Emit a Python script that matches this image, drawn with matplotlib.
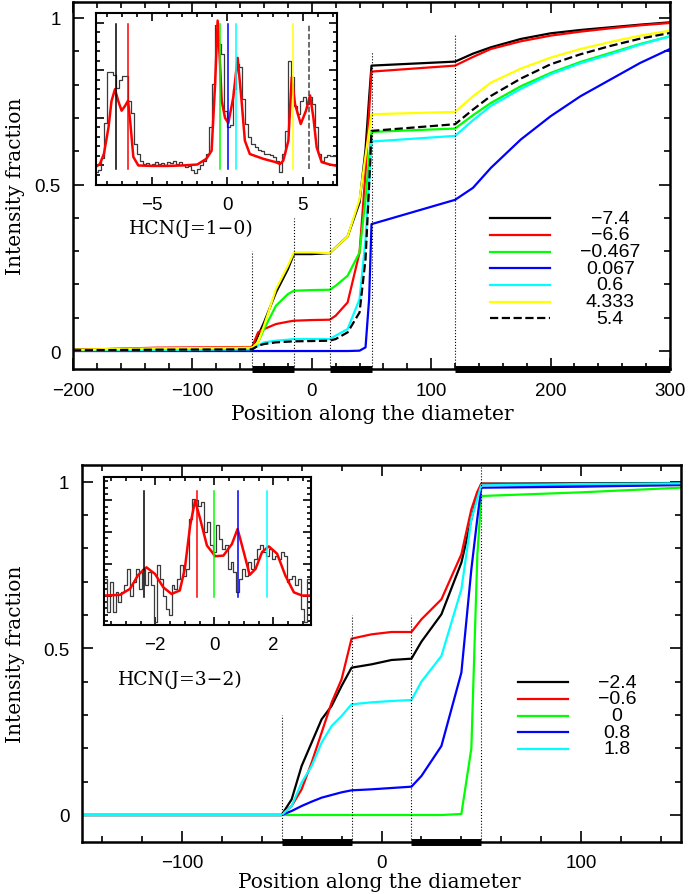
import matplotlib
matplotlib.use('Agg')
import matplotlib.pyplot as plt
from matplotlib.ticker import MultipleLocator

plt.rcParams['font.family'] = ['Liberation Sans', 'DejaVu Sans']
SERIF = 'DejaVu Serif'

# ---------------- top panel : HCN(J=1-0) ----------------
pos10 = [-200, -130, -50, -45, -40, -30, -20, -15, 0, 15, 20, 30, 40, 45, 48, 50,
         120, 135, 150, 175, 200, 225, 250, 275, 300]
vel10 = [-7.4, -6.6, -0.467, 0.067, 0.6, 4.333, 5.4]
lab10 = ['\u22127.4', '\u22126.6', '\u22120.467', '0.067', '0.6', '4.333', '5.4']
col10 = ['black', 'red', '#00ff00', 'blue', 'cyan', 'yellow', 'black']
ls10 = ['-', '-', '-', '-', '-', '-', '--']
frac10 = [
    [0.005, 0.007, 0.008, 0.046, 0.086, 0.176, 0.246, 0.291, 0.291, 0.294, 0.311, 0.344,
     0.446, 0.606, 0.76, 0.857, 0.869, 0.893, 0.912, 0.937, 0.954, 0.964, 0.972, 0.980, 0.987],
    [0.003, 0.010, 0.012, 0.056, 0.066, 0.081, 0.088, 0.091, 0.093, 0.094, 0.106, 0.146,
     0.296, 0.536, 0.72, 0.839, 0.857, 0.883, 0.907, 0.930, 0.947, 0.959, 0.969, 0.978, 0.985],
    [0.002, 0.004, 0.006, 0.026, 0.066, 0.136, 0.171, 0.181, 0.183, 0.184, 0.196, 0.226,
     0.296, 0.457, 0.58, 0.658, 0.668, 0.708, 0.745, 0.795, 0.835, 0.868, 0.895, 0.922, 0.945],
    [0, 0, 0, 0, 0, 0, 0, 0, 0, 0, 0, 0,
     0.001, 0.011, 0.156, 0.381, 0.454, 0.49, 0.55, 0.635, 0.705, 0.765, 0.815, 0.865, 0.907],
    [0.002, 0.003, 0.005, 0.016, 0.026, 0.031, 0.034, 0.036, 0.036, 0.036, 0.046, 0.066,
     0.156, 0.336, 0.506, 0.629, 0.646, 0.693, 0.736, 0.787, 0.831, 0.864, 0.891, 0.92, 0.945],
    [0.004, 0.008, 0.010, 0.026, 0.076, 0.186, 0.256, 0.296, 0.296, 0.294, 0.311, 0.344,
     0.456, 0.586, 0.66, 0.711, 0.718, 0.765, 0.806, 0.848, 0.881, 0.907, 0.928, 0.947, 0.962],
    [0.002, 0.004, 0.005, 0.016, 0.021, 0.026, 0.028, 0.029, 0.030, 0.031, 0.036, 0.056,
     0.116, 0.276, 0.496, 0.661, 0.681, 0.725, 0.766, 0.818, 0.861, 0.891, 0.916, 0.938, 0.955],
]
edges10 = [-50, -15, 15, 50, 120]
edgetop10 = [0.30, 0.40, 0.40, 0.90, 0.95]
bars10 = [(-50, -15), (15, 50), (120, 300)]

# spectrum in inset (observed histogram + model)
spec10_v = [-8.7 + 0.2 * i for i in range(81)]
spec10_t = [-0.14, -0.10, 0.15, 0.90, 1.96, 1.96, 1.90, 1.62, 1.80, 1.88, 1.88, 1.36, 1.10,
            0.45, 0.24, 0.10, 0.03, 0.05, 0.00, 0.04, 0.08, 0.04, 0.06, 0.02, 0.07, 0.05,
            0.09, 0.04, 0.08, 0.02, -0.04, -0.02, -0.10, -0.15, -0.08, 0.02, 0.10, 0.25,
            0.80, 1.70, 2.95, 2.55, 2.34, 1.15, 0.80, 0.84, 1.61, 2.13, 2.06, 1.40, 0.87,
            0.59, 0.45, 0.38, 0.33, 0.31, 0.25, 0.24, 0.21, 0.17, 0.10, -0.14, 0.24, 0.73,
            2.20, 1.85, 1.25, 1.08, 1.36, 1.43, 1.29, 1.43, 1.29, 0.80, 0.25, 0.10, 0.18,
            0.23, 0.20, 0.20, 0.20]
model10_v = [-8.7, -8.47, -8.2, -7.9, -7.7, -7.47, -7.25, -7.03, -6.8, -6.6, -6.45, -6.25,
             -5.92, -5.0, -4.0, -3.0, -2.0, -1.4, -1.05, -0.82, -0.65, -0.5, -0.38, -0.16,
             0.06, 0.39, 0.68, 0.94, 1.16, 1.49, 2.38, 3.2, 3.49, 3.71, 4.05, 4.27, 4.49,
             4.87, 5.22, 5.49, 5.71, 5.93, 6.26, 6.8, 7.3]
model10_t = [-0.02, 0.03, 0.25, 0.8, 1.35, 1.6, 1.35, 1.15, 1.25, 1.36, 0.9, 0.18,
             0.0, -0.01, -0.01, 0.0, 0.02, 0.14, 0.31, 1.7, 3.04, 2.2, 1.36, 1.0,
             0.89, 1.43, 2.26, 1.36, 0.52, 0.24, 0.14, 0.07, 0.03, 0.1, 0.52, 1.85, 1.29,
             0.87, 1.15, 1.47, 1.01, 0.38, 0.07, 0.02, -0.01]

# ---------------- bottom panel : HCN(J=3-2) ----------------
pos32 = [-150, -50, -45, -40, -35, -30, -25, -20, -15, -5, 5, 15, 20, 30, 40, 45, 48, 50,
         100, 150]
vel32 = [-2.4, -0.6, 0, 0.8, 1.8]
lab32 = ['\u22122.4', '\u22120.6', '0', '0.8', '1.8']
col32 = ['black', 'red', '#00ff00', 'blue', 'cyan']
frac32 = [
    [0, 0, 0.047, 0.147, 0.217, 0.287, 0.327, 0.387, 0.442, 0.452, 0.465, 0.469, 0.52,
     0.602, 0.757, 0.887, 0.962, 0.994, 0.995, 0.996],
    [0, 0, 0.027, 0.077, 0.157, 0.247, 0.337, 0.407, 0.529, 0.542, 0.549, 0.549, 0.587,
     0.647, 0.782, 0.917, 0.97, 0.994, 0.989, 0.99],
    [0, 0, 0, 0, 0, 0, 0, 0, 0, 0, 0, 0, 0, 0, 0.003, 0.2, 0.78, 0.957, 0.968, 0.982],
    [0, 0, 0.012, 0.027, 0.04, 0.052, 0.06, 0.068, 0.074, 0.077, 0.081, 0.085, 0.117,
     0.207, 0.427, 0.737, 0.89, 0.982, 0.985, 0.99],
    [0, 0, 0.027, 0.097, 0.147, 0.217, 0.267, 0.297, 0.332, 0.338, 0.342, 0.345, 0.40,
     0.477, 0.677, 0.887, 0.95, 0.989, 0.993, 0.995],
]
edges32 = [-50, -15, 15, 50]
edgetop32 = [0.30, 0.60, 0.60, 1.06]
bars32 = [(-50, -15), (15, 50)]

spec32_v = [-3.7 + 0.1 * i for i in range(71)]
spec32_t = [0.53, -0.53, 0.42, -0.53, 0.10, -0.20, 0.10, 0.32, 0.84, 0.00, 0.42, 0.84,
            0.21, 0.84, 0.32, 0.74, 0.32, -0.84, 0.95, 0.53, 0.00, -0.42, -0.63, 0.32,
            0.21, 0.53, 0.95, 0.63, 0.84, 2.42, 3.05, 3.00, 2.84, 2.95, 2.00, 2.32, 1.58,
            1.37, 2.21, 1.79, 1.47, 1.58, 0.84, 1.05, 0.74, 0.10, 0.53, 0.84, 0.63, 1.05,
            0.84, 1.16, 1.47, 1.58, 1.37, 1.26, 1.47, 1.16, 1.26, 1.16, 1.37, 1.26, 0.42,
            0.53, 0.63, 0.32, 0.53, -0.42, -0.84, 0.53, 0.32]
model32_v = [-3.75, -3.2, -2.86, -2.58, -2.3, -2.01, -1.73, -1.45, -1.17, -1.0, -0.82,
             -0.65, -0.48, -0.25, 0.03, 0.31, 0.6, 0.79, 1.0, 1.2, 1.4, 1.62, 1.85, 2.13,
             2.41, 2.7, 2.98, 3.3]
model32_t = [0.0, 0.02, 0.21, 0.65, 0.89, 0.68, 0.26, 0.05, 0.16, 0.84, 2.2, 3.0, 2.42,
             1.58, 1.24, 1.26, 1.63, 2.1, 1.37, 0.65, 0.84, 1.37, 1.55, 1.32, 0.63, 0.1,
             0.0, 0.0]


def style_axes(ax, lw=1.8):
    for s in ax.spines.values():
        s.set_linewidth(lw)
    ax.tick_params(which='both', direction='in', top=True, right=True, width=1.2)
    ax.tick_params(which='major', length=8)
    ax.tick_params(which='minor', length=4)


def main_panel(ax, pos, fracs, cols, styles, labs, edges, edgetop, bars,
               xlim, ylim, xmaj, legx, legy, legdy):
    for f, c, s in zip(fracs, cols, styles):
        ax.plot(pos, f, color=c, ls=s, lw=1.6)
    for e, t in zip(edges, edgetop):
        ax.plot([e, e], [ylim[0], t], color='black', ls=':', lw=0.8)
    for a, b in bars:
        ax.plot([a, b], [ylim[0], ylim[0]], color='black', lw=5, clip_on=False,
                solid_capstyle='butt')
    ax.set_xlim(*xlim)
    ax.set_ylim(*ylim)
    ax.xaxis.set_major_locator(MultipleLocator(xmaj))
    ax.xaxis.set_minor_locator(MultipleLocator(20))
    ax.set_yticks([0, 0.5, 1])
    ax.set_yticklabels(['0', '0.5', '1'])
    ax.yaxis.set_minor_locator(MultipleLocator(0.1))
    style_axes(ax)
    ax.tick_params(labelsize=13.5, pad=9)
    for i, (c, s, l) in enumerate(zip(cols, styles, labs)):
        yy = legy - i * legdy
        ax.plot([legx[0], legx[1]], [yy, yy], color=c, ls=s, lw=1.6,
                transform=ax.transAxes)
        ax.text(legx[2], yy, l, transform=ax.transAxes, ha='center', va='center',
                fontsize=14)
    ax.set_xlabel('Position along the diameter', family=SERIF, fontsize=14.5)
    ax.set_ylabel('Intensity fraction', family=SERIF, fontsize=14.5)


def inset_panel(ax, sv, st, mv, mt, vels, cols, styles, xlim, ylim, lo, hi, xmaj, xmin):
    ax.step(sv, st, where='mid', color='#3a3a3a', lw=0.9)
    ax.plot(mv, mt, color='red', lw=1.8)
    for v, c, s in zip(vels, cols, styles):
        cc = '#444444' if s == '--' else c
        ax.plot([v, v], [lo, hi], color=cc, ls=s, lw=1.1)
    ax.set_xlim(*xlim)
    ax.set_ylim(*ylim)
    ax.xaxis.set_major_locator(MultipleLocator(xmaj))
    ax.xaxis.set_minor_locator(MultipleLocator(xmin))
    ax.yaxis.set_major_locator(MultipleLocator(1))
    ax.yaxis.set_minor_locator(MultipleLocator(0.2))
    ax.set_yticklabels([])
    style_axes(ax, lw=1.5)
    ax.tick_params(which='major', length=6)
    ax.tick_params(which='minor', length=3)
    ax.tick_params(labelsize=13.5, pad=8)


W, H = 689, 895
fig = plt.figure(figsize=(W / 100, H / 100), dpi=100)

ax1 = fig.add_axes([73 / W, 1 - 370 / H, 597 / W, 367 / H])
main_panel(ax1, pos10, frac10, col10, ls10, lab10, edges10, edgetop10, bars10,
           (-200, 300), (-0.054, 1.048), 100, (0.698, 0.799, 0.90), 0.411, 0.0455)
ax1.xaxis.set_label_coords(0.502, -0.095)
ax1.yaxis.set_label_coords(-0.08, 0.5)

ax2 = fig.add_axes([82 / W, 1 - 843 / H, 599 / W, 377 / H])
main_panel(ax2, pos32, frac32, col32, ['-'] * 5, lab32, edges32, edgetop32, bars32,
           (-150, 150), (-0.081, 1.05), 100, (0.728, 0.811, 0.893), 0.424, 0.0443)
ax2.xaxis.set_label_coords(0.497, -0.08)
ax2.yaxis.set_label_coords(-0.095, 0.5)

in1 = fig.add_axes([96 / W, 1 - 186 / H, 241 / W, 172 / H])
inset_panel(in1, spec10_v, spec10_t, model10_v, model10_t, vel10, col10, ls10,
            (-8.73, 7.28), (-0.41, 3.2), -0.07, 2.97, 5, 1)
fig.text(191 / W, 1 - 229 / H, 'HCN(J=1\u22120)', family=SERIF, fontsize=13.5,
         ha='center', va='center')

in2 = fig.add_axes([104 / W, 1 - 626 / H, 207 / W, 148 / H])
inset_panel(in2, spec32_v, spec32_t, model32_v, model32_t, vel32, col32, ['-'] * 5,
            (-3.74, 3.28), (-0.93, 3.74), -0.05, 3.3, 2, 0.5)
fig.text(180 / W, 1 - 680 / H, 'HCN(J=3\u22122)', family=SERIF, fontsize=13.5,
         ha='center', va='center')

fig.savefig('out.png', dpi=100)
